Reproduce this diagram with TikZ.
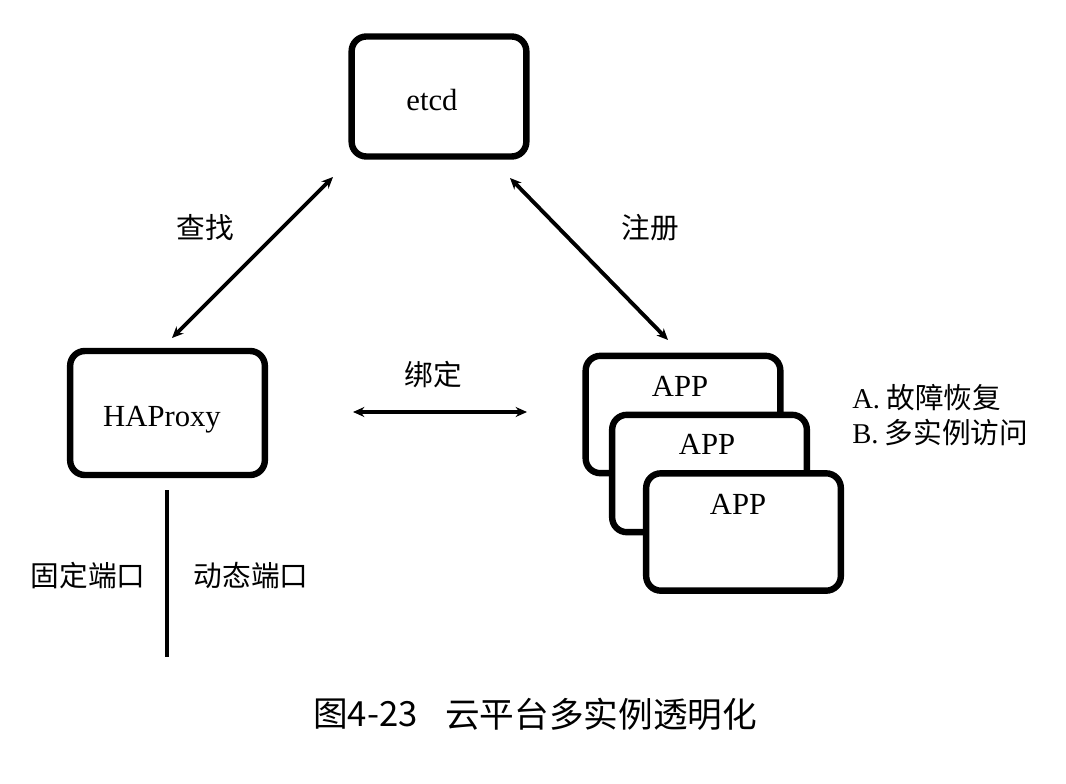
\documentclass[tikz,border=0pt]{standalone}
\usepackage{fontspec}
\setmainfont{Liberation Serif}
\newfontfamily\cjk{Noto Sans CJK SC}
\usetikzlibrary{arrows.meta}
\begin{document}
\begin{tikzpicture}[x=0.75pt,y=-0.75pt,
  box/.style={draw, line width=4.8pt, rounded corners=11pt, fill=white, inner sep=0pt},
  appbox/.style={box, minimum width=146pt, minimum height=88pt},
  conn/.style={line width=2.9pt, {Stealth[length=8.5pt,width=7.5pt]}-{Stealth[length=8.5pt,width=7.5pt]}},
  lbl/.style={font=\cjk\fontsize{21.5}{25}\selectfont, inner sep=0pt},
  txt/.style={font=\fontsize{23}{27}\selectfont, inner sep=0pt}]
\useasboundingbox (0,0) rectangle (1066,784);
\fill[white] (0,0) rectangle (1066,784);

% boxes
\node[box, minimum width=131pt, minimum height=90pt] (etcd) at (439,96.5) {};
\node[txt] (etcdt) at (432,100) {etcd};
\node[box, minimum width=146pt, minimum height=93pt] (hap) at (167.5,413) {};
\node[txt] (hapt) at (162,420) {HAProxy};
\node[appbox] (app1) at (683,414.5) {};
\node[txt] (app1t) at (680,386) {APP};
\node[appbox] (app2) at (709.5,473.5) {};
\node[txt] (app2t) at (707,444) {APP};
\node[appbox] (app3) at (743.5,532) {};
\node[txt] (app3t) at (738,504) {APP};

% connector ends
\coordinate (q1) at (333,177);
\coordinate (q2) at (172,338);
\coordinate (r1) at (510,178);
\coordinate (r2) at (668,340);
\coordinate (b1) at (353,412);
\coordinate (b2) at (527,412);
\coordinate (v1) at (167,490);
\coordinate (v2) at (167,657);

\draw[conn] (q1) -- (q2);
\draw[conn] (r1) -- (r2);
\draw[conn] (b1) -- (b2);
\draw[line width=3.4pt] (v1) -- (v2);

% labels
\node[lbl] (l1) at (205,228) {查找};
\node[lbl] (l2) at (650,228) {注册};
\node[lbl] (l3) at (433,375) {绑定};
\node[lbl] (l4) at (88,576) {固定端口};
\node[lbl] (l5) at (251,576) {动态端口};
\node[lbl, anchor=west] (la) at (852,398) {{\rmfamily A.} 故障恢复};
\node[lbl, anchor=west] (lb) at (852,433) {{\rmfamily B.} 多实例访问};

% caption
\node[font=\cjk\fontsize{26}{30}\selectfont, inner sep=0pt, anchor=west] (c1) at (313,714) {图4-23};
\node[font=\cjk\fontsize{26}{30}\selectfont, inner sep=0pt, anchor=west] (c2) at (445,714) {云平台多实例透明化};
\end{tikzpicture}
\end{document}
